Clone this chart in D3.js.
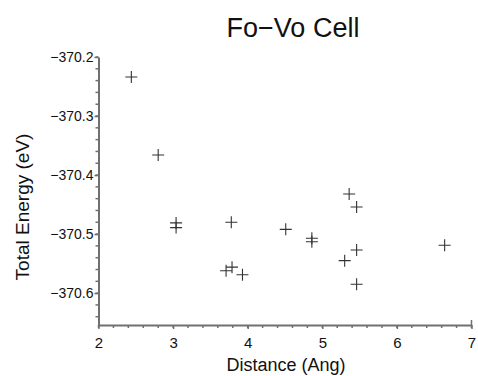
<!DOCTYPE html>
<html>
<head>
<meta charset="utf-8">
<script src="https://cdn.jsdelivr.net/npm/d3@7"></script>
<style>
  body { margin: 0; background: #fff; }
  text { font-family: "Liberation Sans", Arial, sans-serif; fill: #111; }
</style>
</head>
<body>
<svg id="chart" width="478" height="376"></svg>
<script>
// Distance (Ang) vs total energy (eV)
const distance = [2.44, 2.80, 3.04, 3.04, 3.78, 3.71, 3.79, 3.93, 4.51, 4.86, 4.86, 5.36, 5.46, 5.46, 5.30, 5.46, 6.64];
const energy = [-370.234, -370.366, -370.481, -370.489, -370.480, -370.562, -370.556, -370.569, -370.492, -370.507, -370.513, -370.432, -370.454, -370.527, -370.545, -370.585, -370.519];
const xTicks = [2, 3, 4, 5, 6, 7];
const yTicks = [-370.2, -370.3, -370.4, -370.5, -370.6];

const svg = d3.select("#chart");
const margin = { top: 57, right: 6.5, bottom: 51, left: 98.5 };
const width = 478 - margin.left - margin.right;
const height = 376 - margin.top - margin.bottom;

const x = d3.scaleLinear().domain([2, 7]).range([margin.left, margin.left + width]);
const y = d3.scaleLinear().domain([-370.654, -370.2]).range([margin.top + height, margin.top]);

const axisColor = "#707070";

// Title
svg.append("text")
  .attr("x", 293)
  .attr("y", 37)
  .attr("text-anchor", "middle")
  .style("font-size", "27px")
  .text("Fo\u2212Vo Cell");

// Minor ticks
const xMinor = d3.range(2, 7.001, 0.2);
const yMinor = d3.range(-370.64, -370.199, 0.02);

const xAxis = svg.append("g")
  .attr("transform", `translate(0,${margin.top + height})`);
xAxis.selectAll(".minor")
  .data(xMinor)
  .enter().append("line")
  .attr("x1", d => x(d)).attr("x2", d => x(d))
  .attr("y1", 0).attr("y2", 3)
  .attr("stroke", axisColor).attr("stroke-width", 1.5);
xAxis.call(d3.axisBottom(x).tickValues(xTicks).tickSize(4).tickPadding(8).tickSizeOuter(0)
  .tickFormat(d3.format("d")));
// little cap at the right end of the x axis
xAxis.append("line")
  .attr("x1", x(7)).attr("x2", x(7))
  .attr("y1", 0).attr("y2", -5)
  .attr("stroke", axisColor).attr("stroke-width", 1.5);

const yAxis = svg.append("g")
  .attr("transform", `translate(${margin.left},0)`);
yAxis.selectAll(".minor")
  .data(yMinor)
  .enter().append("line")
  .attr("y1", d => y(d)).attr("y2", d => y(d))
  .attr("x1", 0).attr("x2", -3)
  .attr("stroke", axisColor).attr("stroke-width", 1.5);
yAxis.call(d3.axisLeft(y).tickValues(yTicks).tickSize(4).tickPadding(1).tickSizeOuter(0)
  .tickFormat(d => d3.format(".1f")(d).replace("-", "\u2212")));

[xAxis, yAxis].forEach(a => {
  a.select(".domain").attr("stroke", axisColor).attr("stroke-width", 2);
  a.selectAll(".tick line").attr("stroke", axisColor).attr("stroke-width", 1.5);
  a.selectAll(".tick text")
    .style("font-family", "Liberation Sans, Arial, sans-serif")
    .attr("fill", "#111");
});
xAxis.selectAll(".tick text").style("font-size", "15px");
yAxis.selectAll(".tick text").style("font-size", "14px");

// Axis labels
svg.append("text")
  .attr("x", 286)
  .attr("y", 371)
  .attr("text-anchor", "middle")
  .style("font-size", "18px")
  .text("Distance (Ang)");

svg.append("text")
  .attr("transform", "translate(29,207) rotate(-90)")
  .attr("text-anchor", "middle")
  .style("font-size", "19px")
  .text("Total Energy (eV)");

// Plus markers
const pts = distance.map((d, i) => ({ d, e: energy[i] }));
const s = 6;
svg.append("g")
  .selectAll("path")
  .data(pts)
  .enter().append("path")
  .attr("d", p => {
    const cx = x(p.d), cy = y(p.e);
    return `M${cx - s},${cy}H${cx + s}M${cx},${cy - s}V${cy + s}`;
  })
  .attr("stroke", "#333")
  .attr("stroke-width", 1.1)
  .attr("fill", "none");
</script>
</body>
</html>
